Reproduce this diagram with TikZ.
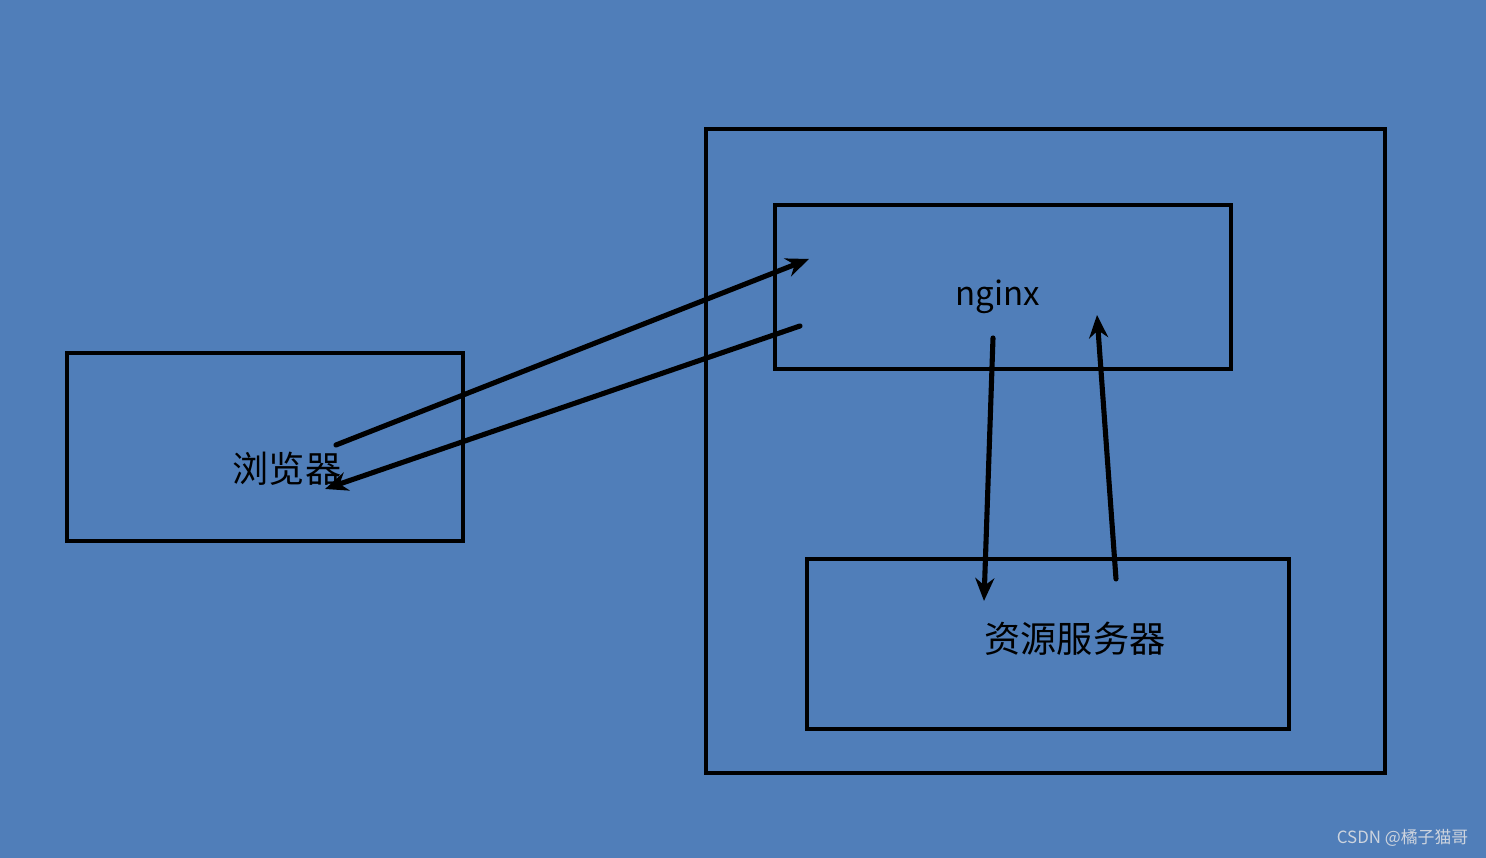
\documentclass[tikz,border=0pt]{standalone}
\usepackage{fontspec}
\setmainfont{Noto Sans CJK SC}
\usepackage{tikz}
\usetikzlibrary{arrows.meta}
\definecolor{bgblue}{RGB}{80,126,185}
\definecolor{markgray}{RGB}{205,212,222}

\begin{document}
\begin{tikzpicture}[
  box/.style={draw, line width=1.15pt, inner sep=0pt},
  label/.style={font=\fontsize{10.3pt}{12pt}\selectfont, inner sep=0pt},
  arrow/.style={-{Stealth[length=6.5pt, width=5.4pt]}, line width=1.45pt, line cap=round}
]
\fill[bgblue] (0,0) rectangle (14.86,8.58);
\useasboundingbox (0,0) rectangle (14.86,8.58);

\node[box, minimum width=3.96cm, minimum height=1.88cm] (browser) at (2.65,4.11) {};
\node[box, minimum width=6.79cm, minimum height=6.44cm] (server) at (10.455,4.07) {};
\node[box, minimum width=4.56cm, minimum height=1.64cm] (nginx) at (10.03,5.71) {};
\node[box, minimum width=4.82cm, minimum height=1.70cm] (res) at (10.48,2.14) {};

\node[label] (browsertext) at (2.87,3.89) {浏览器};
\node[label, font=\fontsize{9.4pt}{11pt}\selectfont] (nginxtext) at (9.98,5.61) {nginx};
\node[label] (restext) at (10.75,2.19) {资源服务器};

\coordinate (req1) at (3.36,4.13);
\coordinate (req2) at (8.09,5.99);
\coordinate (rsp1) at (8.00,5.32);
\coordinate (rsp2) at (3.25,3.69);
\coordinate (fwd1) at (9.93,5.20);
\coordinate (fwd2) at (9.84,2.57);
\coordinate (back1) at (11.16,2.79);
\coordinate (back2) at (10.97,5.43);

\draw[arrow] (req1) -- (req2);
\draw[arrow] (rsp1) -- (rsp2);
\draw[arrow] (fwd1) -- (fwd2);
\draw[arrow] (back1) -- (back2);

\node[anchor=east, text=markgray, font=\fontsize{4.8pt}{6pt}\selectfont, inner sep=0pt] (mark) at (14.69,0.20) {CSDN @橘子猫哥};
\end{tikzpicture}
\end{document}
